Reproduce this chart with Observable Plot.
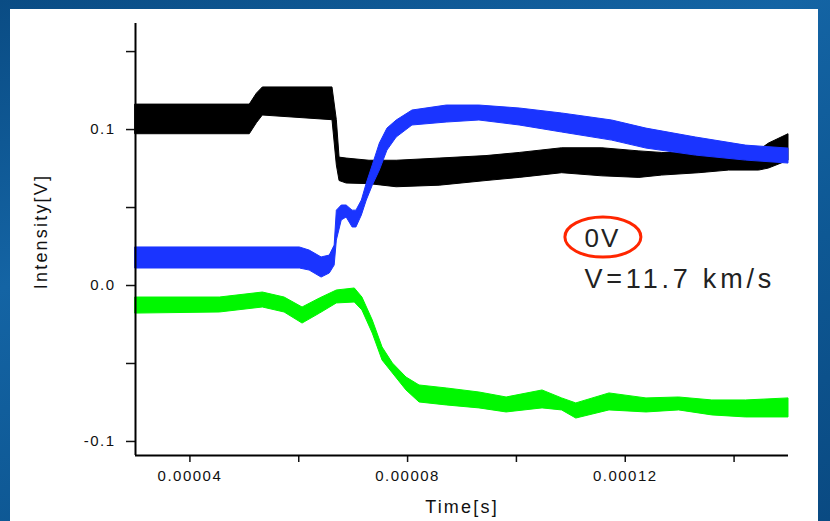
<!DOCTYPE html>
<html><head><meta charset="utf-8">
<script src="https://cdn.jsdelivr.net/npm/d3@7"></script>
<script src="https://cdn.jsdelivr.net/npm/@observablehq/plot@0.6"></script>
<style>
html,body{margin:0;padding:0;width:830px;height:521px;overflow:hidden;}
body{position:relative;background:linear-gradient(160deg,#0a4c84 0%,#1464a4 35%,#0e5894 65%,#0a4a82 100%);font-family:"Liberation Sans",Arial,sans-serif;}
#panel{position:absolute;left:10px;top:9px;width:808px;height:512px;background:#fff;}
#chart{position:absolute;left:0;top:0;}
</style></head><body><div id="panel"></div><div id="chart"></div>
<script>
// time in microseconds, values in volts (band low/high edges of each noisy trace)
const blackT  = [30, 51.0, 52.3, 53.4, 66.2, 67.0, 67.5, 68.8, 73.0, 78.0, 85.9, 94.5, 100.6, 108.4, 115.8, 122.6, 126.8, 133.6, 139.1, 144.6, 146.4, 150];
const blackHi = [0.116, 0.116, 0.123, 0.127, 0.127, 0.106, 0.082, 0.0814, 0.080, 0.080, 0.0814, 0.083, 0.085, 0.088, 0.088, 0.086, 0.085, 0.085, 0.0846, 0.0865, 0.091, 0.097];
const blackLo = [0.097, 0.097, 0.104, 0.109, 0.106, 0.077, 0.067, 0.0654, 0.065, 0.063, 0.064, 0.067, 0.069, 0.072, 0.070, 0.069, 0.0705, 0.072, 0.0737, 0.0737, 0.075, 0.080];

const blueT  = [30, 60.2, 62.0, 64.2, 65.7, 66.6, 67.0, 67.9, 68.8, 69.9, 70.6, 71.6, 72.5, 73.6, 74.9, 76.3, 78.0, 80.9, 87.2, 93.2, 100.6, 108.4, 117.6, 123.9, 133.0, 142.2, 150];
const blueHi = [0.0244, 0.0244, 0.0224, 0.018, 0.0192, 0.0256, 0.048, 0.0513, 0.0513, 0.048, 0.048, 0.0545, 0.0654, 0.077, 0.091, 0.1006, 0.1058, 0.1122, 0.1154, 0.1154, 0.1135, 0.1103, 0.1058, 0.1006, 0.0949, 0.0897, 0.0878];
const blueLo = [0.0109, 0.0109, 0.0096, 0.0051, 0.0077, 0.0128, 0.0288, 0.0417, 0.0436, 0.0372, 0.0372, 0.0449, 0.0545, 0.064, 0.0737, 0.0865, 0.0949, 0.1026, 0.1045, 0.1058, 0.1026, 0.0981, 0.0929, 0.0878, 0.0833, 0.0801, 0.0782];

const greenT  = [30, 45.5, 53.4, 57.4, 60.7, 63.9, 67.0, 70.3, 71.7, 73.6, 75.4, 77.3, 79.8, 82.2, 87.2, 93.2, 98.2, 104.8, 108.4, 111.0, 117.1, 123.9, 129.9, 136.0, 142.2, 150];
const greenHi = [-0.0077, -0.0077, -0.0045, -0.0077, -0.0141, -0.0083, -0.0032, -0.0019, -0.0077, -0.0224, -0.0397, -0.050, -0.059, -0.0641, -0.066, -0.0686, -0.0718, -0.0673, -0.0724, -0.0756, -0.0692, -0.0724, -0.0718, -0.0737, -0.0737, -0.0724];
const greenLo = [-0.018, -0.0173, -0.0141, -0.0173, -0.0244, -0.018, -0.0115, -0.0109, -0.016, -0.0308, -0.0481, -0.0564, -0.0673, -0.075, -0.0769, -0.0788, -0.0814, -0.0788, -0.0801, -0.0853, -0.0801, -0.0814, -0.0801, -0.0833, -0.0846, -0.0846];

const xMajorTicks = [0.00004, 0.00008, 0.00012];
const xMinorTicks = [0.00006, 0.00010, 0.00014];
const yMajorTicks = [-0.1, 0.0, 0.1];
const yMinorTicks = [-0.05, 0.05, 0.15];
const xDomain = [0.00003, 0.00015];
const yDomain = [-0.109, 0.168];

const annoLabel = "0V";
const annoLabelT = 115.8, annoLabelV = 0.0301;
const annoSpeed = "V=11.7 km/s";
const annoSpeedT = 112.5, annoSpeedV = 0.0038;

const toRows = (T, lo, hi) => T.map((t, i) => ({t: t * 1e-6, lo: lo[i], hi: hi[i]}));
const black = toRows(blackT, blackLo, blackHi);
const blue = toRows(blueT, blueLo, blueHi);
const green = toRows(greenT, greenLo, greenHi);

const chart = Plot.plot({
  width: 830, height: 521,
  marginLeft: 135, marginRight: 42, marginTop: 23, marginBottom: 66,
  style: {background: "transparent", fontFamily: "Liberation Sans, Arial, sans-serif", color: "#111", overflow: "visible"},
  x: {domain: xDomain},
  y: {domain: yDomain},
  marks: [
    Plot.areaY(black, {x: "t", y1: "lo", y2: "hi", fill: "#000", stroke: "#000", strokeWidth: 1}),
    Plot.areaY(blue, {x: "t", y1: "lo", y2: "hi", fill: "#1a34ff", stroke: "#1a34ff", strokeWidth: 1}),
    Plot.areaY(green, {x: "t", y1: "lo", y2: "hi", fill: "#00f700", stroke: "#00f700", strokeWidth: 1}),
    Plot.axisX({ticks: xMajorTicks, tickFormat: d3.format(".5f"), tickSize: 7, tickPadding: 8, fontSize: 15, strokeWidth: 1.5, label: null}),
    Plot.axisX({ticks: xMinorTicks, tickFormat: () => "", tickSize: 7, strokeWidth: 1.5, label: null}),
    Plot.axisY({ticks: yMajorTicks, tickFormat: d => d.toFixed(1), tickSize: 9, tickPadding: 11, fontSize: 15, strokeWidth: 1.5, label: null}),
    Plot.axisY({ticks: yMinorTicks, tickFormat: () => "", tickSize: 9, strokeWidth: 1.5, label: null}),
    Plot.ruleX([xDomain[0]], {stroke: "#000", strokeWidth: 2}),
    Plot.ruleY([yDomain[0]], {stroke: "#000", strokeWidth: 2}),
    Plot.text(["Time[s]"], {frameAnchor: "bottom", textAnchor: "middle", dy: 57, fontSize: 18, fill: "#111"}),
    Plot.text(["Intensity[V]"], {frameAnchor: "left", textAnchor: "middle", dx: -94, dy: -8, rotate: -90, fontSize: 18, fill: "#111"}),
    Plot.text([annoLabel], {x: () => annoLabelT * 1e-6, y: () => annoLabelV, text: d => d, fontSize: 26, fill: "#222"}),
    Plot.text([annoSpeed], {x: () => annoSpeedT * 1e-6, y: () => annoSpeedV, text: d => d, textAnchor: "start", fontSize: 27, fill: "#222"})
  ]
});
document.getElementById("chart").appendChild(chart);

// letter spacing like the bitmap font of the original
const sel = d3.select(chart).selectAll("text");
sel.style("letter-spacing", "1.5px");
sel.filter(function(){ return this.textContent === "Intensity[V]" || this.textContent === "Time[s]"; }).style("letter-spacing", "2.2px");
sel.filter(function(){ return this.textContent === annoSpeed; }).style("letter-spacing", "3.8px");
sel.filter(function(){ return this.textContent === annoLabel; }).style("letter-spacing", "2px");

// red ellipse around the "0V" label, placed through the scales
const sx = chart.scale("x"), sy = chart.scale("y");
const cx = sx.apply(annoLabelT * 1e-6), cy = sy.apply(annoLabelV);
d3.select(chart).append("ellipse")
  .attr("cx", cx + 1).attr("cy", cy - 1).attr("rx", 38).attr("ry", 20)
  .attr("fill", "none").attr("stroke", "#ff2600").attr("stroke-width", 3);
</script></body></html>
